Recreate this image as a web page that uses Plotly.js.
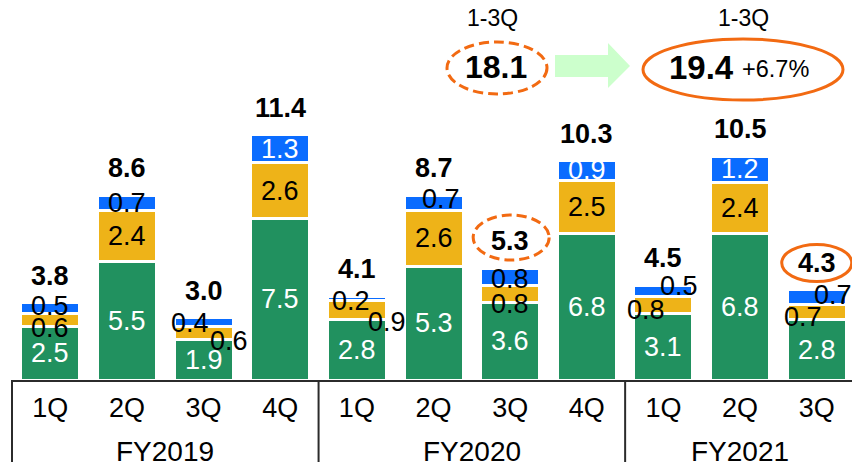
<!DOCTYPE html>
<html>
<head>
<meta charset="utf-8">
<script src="https://cdn.plot.ly/plotly-3.0.1.min.js"></script>
<style>html,body{margin:0;padding:0;background:#fff;}#chart{width:852px;height:462px;}</style>
</head>
<body>
<div id="chart"></div>
<script>
// ---- data ----
const quarters = ['1Q','2Q','3Q','4Q','1Q','2Q','3Q','4Q','1Q','2Q','3Q'];
const years = ['FY2019','FY2020','FY2021'];
const yearOfBar = [0,0,0,0,1,1,1,1,2,2,2];
const green  = [2.5,5.5,1.9,7.5,2.8,5.3,3.6,6.8,3.1,6.8,2.8];
const yellow = [0.6,2.4,0.6,2.6,0.9,2.6,0.8,2.5,0.8,2.4,0.7];
const blue   = [0.5,0.7,0.4,1.3,0.2,0.7,0.8,0.9,0.5,1.2,0.7];
const totals = [3.8,8.6,3.0,11.4,4.1,8.7,5.3,10.3,4.5,10.5,4.3];
const cumLabel = ['1-3Q','1-3Q'];
const cumPrev = 18.1;
const cumCurr = 19.4;
const cumGrowth = '+6.7%';

// ---- styling / layout helpers ----
const W = 852, H = 462;
const M = {l:12, r:0, t:0, b:82};
const XR = [-0.5, 10.46];
const YR = [0, 17.67];
const plotW = W - M.l - M.r, plotH = H - M.t - M.b;
const px2paperX = px => (px - M.l) / plotW;
const px2paperY = py => (M.t + plotH - py) / plotH;
const data2paperX = v => (v - XR[0]) / (XR[1] - XR[0]);

const C_GREEN = '#21915F', C_YELLOW = '#EEB318', C_BLUE = '#0A6CFF';
const C_ORANGE = '#F26A12', C_ARROW = '#CCFFCC', C_LINE = '#2b2b2b';
const FONT = '"Liberation Sans", Arial, sans-serif';
const FS = 27;

const xIdx = quarters.map((_, i) => i);

// label offsets in pixels for crowded small segments (style only)
const labelShift = {
  yellow: {0:[0,-8], 2:[25,-8], 4:[30,-12], 6:[0,-10], 8:[-17,-5], 10:[-14,-5]},
  blue:   {0:[0,2], 2:[-14,-1], 4:[-6,-3], 5:[7,4], 6:[0,-2], 8:[16,5], 10:[16,2]}
};

function barTrace(vals, color) {
  return {
    type: 'bar', x: xIdx, y: vals, width: 0.77,
    marker: {color: color, line: {color: '#ffffff', width: 3}},
    hoverinfo: 'skip'
  };
}
const traces = [barTrace(green, C_GREEN), barTrace(yellow, C_YELLOW), barTrace(blue, C_BLUE)];

const annotations = [];
// segment labels
const series = [['green', green], ['yellow', yellow], ['blue', blue]];
xIdx.forEach(i => {
  let base = 0;
  series.forEach(([name, arr]) => {
    const v = arr[i];
    let color = '#000';
    if (name === 'green') color = '#fff';
    if (name === 'blue' && v >= 0.9) color = '#fff';
    const sh = (labelShift[name] && labelShift[name][i]) || [0, 0];
    annotations.push({
      x: i, y: base + v / 2, xref: 'x', yref: 'y', text: v.toFixed(1),
      showarrow: false, xanchor: 'center', yanchor: 'middle',
      xshift: sh[0], yshift: sh[1],
      font: {family: FONT, size: FS, color: color}
    });
    base += v;
  });
  // total label
  annotations.push({
    x: i, y: base, xref: 'x', yref: 'y', text: '<b>' + totals[i].toFixed(1) + '</b>',
    showarrow: false, xanchor: 'center', yanchor: 'middle', yshift: 27,
    font: {family: FONT, size: FS, color: '#000'}
  });
});

// year labels
years.forEach((yr, k) => {
  const idx = xIdx.filter(i => yearOfBar[i] === k);
  const mid = (idx[0] + idx[idx.length - 1]) / 2;
  annotations.push({
    x: data2paperX(mid), y: px2paperY(451), xref: 'paper', yref: 'paper', text: yr,
    showarrow: false, xanchor: 'center', yanchor: 'middle',
    font: {family: FONT, size: 28, color: '#000'}
  });
});

// cumulative comparison
annotations.push({x: px2paperX(492), y: px2paperY(18), xref:'paper', yref:'paper', text: cumLabel[0],
  showarrow:false, xanchor:'center', yanchor:'middle', font:{family:FONT, size:23, color:'#000'}});
annotations.push({x: px2paperX(743), y: px2paperY(18), xref:'paper', yref:'paper', text: cumLabel[1],
  showarrow:false, xanchor:'center', yanchor:'middle', font:{family:FONT, size:23, color:'#000'}});
annotations.push({x: px2paperX(496), y: px2paperY(67), xref:'paper', yref:'paper', text: '<b>' + cumPrev.toFixed(1) + '</b>',
  showarrow:false, xanchor:'center', yanchor:'middle', font:{family:FONT, size:32, color:'#000'}});
annotations.push({x: px2paperX(701), y: px2paperY(67), xref:'paper', yref:'paper', text: '<b>' + cumCurr.toFixed(1) + '</b>',
  showarrow:false, xanchor:'center', yanchor:'middle', font:{family:FONT, size:33, color:'#000'}});
annotations.push({x: px2paperX(775), y: px2paperY(69), xref:'paper', yref:'paper', text: cumGrowth,
  showarrow:false, xanchor:'center', yanchor:'middle', font:{family:FONT, size:23.5, color:'#000'}});

// shapes
const shapes = [];
const yBot = px2paperY(H);
// vertical dividers in category table
[-0.5, 3.5, 7.5].forEach(xv => {
  shapes.push({type:'line', xref:'paper', yref:'paper', x0: data2paperX(xv), x1: data2paperX(xv),
    y0: 0, y1: yBot, line:{color: C_LINE, width: 2}});
});
// horizontal axis line
shapes.push({type:'line', xref:'paper', yref:'paper', x0: data2paperX(-0.5), x1: 1, y0: px2paperY(381), y1: px2paperY(381),
  line:{color: C_LINE, width: 2}});

// ellipses at top
function ellipsePx(x0, x1, y0, y1, dash) {
  return {type:'circle', xref:'paper', yref:'paper', x0: px2paperX(x0), x1: px2paperX(x1),
    y0: px2paperY(y1), y1: px2paperY(y0), line:{color: C_ORANGE, width: 3, dash: dash}};
}
shapes.push(ellipsePx(447, 547, 42, 94, '10px,5px'));
shapes.push(ellipsePx(643, 843, 39, 100, 'solid'));
// arrow
const ap = [[555,55],[608,55],[608,43],[630,66],[608,88],[608,77],[555,77]];
shapes.push({type:'path', xref:'paper', yref:'paper',
  path: 'M' + ap.map(p => px2paperX(p[0]).toFixed(5) + ',' + px2paperY(p[1]).toFixed(5)).join(' L') + ' Z',
  fillcolor: C_ARROW, line:{width:0}});
// ellipses around highlighted totals, anchored to data
shapes.push({type:'circle', xref:'x', yref:'y', xsizemode:'pixel', ysizemode:'pixel',
  xanchor: 6, yanchor: totals[6], x0:-37, x1:39, y0:6, y1:51,
  line:{color: C_ORANGE, width: 3, dash:'10px,5px'}});
shapes.push({type:'circle', xref:'x', yref:'y', xsizemode:'pixel', ysizemode:'pixel',
  xanchor: 10, yanchor: totals[10], x0:-35, x1:35, y0:6, y1:43,
  line:{color: C_ORANGE, width: 3}});

const layout = {
  width: W, height: H, margin: M, barmode: 'stack', showlegend: false,
  paper_bgcolor: '#fff', plot_bgcolor: '#fff',
  xaxis: {range: XR, showgrid: false, zeroline: false, showline: false,
    tickvals: xIdx, ticktext: quarters, ticks: '', ticklabelstandoff: 9,
    tickfont: {family: FONT, size: FS, color: '#000'}, fixedrange: true},
  yaxis: {range: YR, visible: false, showgrid: false, zeroline: false, fixedrange: true},
  annotations: annotations, shapes: shapes
};

Plotly.newPlot('chart', traces, layout, {displayModeBar: false, staticPlot: true});
</script>
</body>
</html>
